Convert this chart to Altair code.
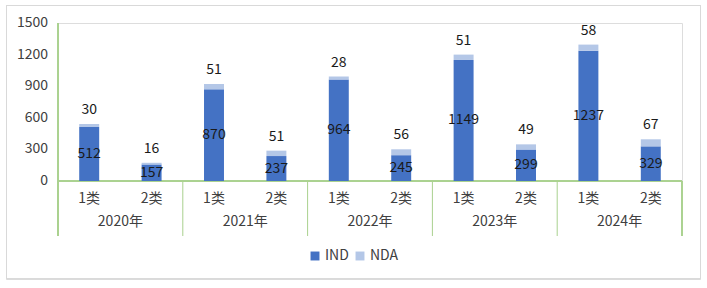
import altair as alt
import pandas as pd

years = ["2020年", "2021年", "2022年", "2023年", "2024年"]
cats = ["1类", "2类"]
ind = [512, 157, 870, 237, 964, 245, 1149, 299, 1237, 329]
nda = [30, 16, 51, 51, 28, 56, 51, 49, 58, 67]
series = ["IND", "NDA"]
colors = ["#4472C4", "#B4C7E7"]
y_ticks = [0, 300, 600, 900, 1200, 1500]

rows = []
for i, (a, b) in enumerate(zip(ind, nda)):
    rows.append({"year": years[i // 2], "cat": cats[i % 2], "IND": a, "NDA": b})
wide = pd.DataFrame(rows)
long_rows = []
for r in rows:
    for k, s in enumerate(series):
        long_rows.append({"year": r["year"], "cat": r["cat"], "series": s, "value": r[s], "ord": k})
long = pd.DataFrame(long_rows)

W, H = 624, 158
GREEN = "#A9D18E"
FONT = "Noto Sans CJK SC"
TXT = "#404040"

xs = alt.Scale(domain=years, paddingInner=0, paddingOuter=0)
xo = alt.Scale(domain=cats, paddingInner=0.68, paddingOuter=0.34)
ys = alt.Scale(domain=[0, 1500], nice=False)


def X(**kw):
    return alt.X("year:N", scale=xs, sort=years, axis=None, **kw)


def XO():
    return alt.XOffset("cat:N", scale=xo, sort=cats)


bars = alt.Chart(long).mark_bar().encode(
    x=X(),
    xOffset=XO(),
    y=alt.Y("value:Q", stack="zero", scale=ys, axis=None),
    color=alt.Color("series:N", scale=alt.Scale(domain=series, range=colors),
                    legend=alt.Legend(title=None, orient="none", direction="horizontal",
                                      legendX=250, legendY=226, symbolType="square",
                                      symbolSize=80, symbolStrokeWidth=0,
                                      labelFontSize=14, labelFont=FONT, labelColor=TXT,
                                      columnPadding=4, labelOffset=3)),
    order=alt.Order("ord:Q", sort="ascending"),
)

ind_labels = alt.Chart(wide).transform_calculate(mid="datum.IND / 2").mark_text(
    fontSize=14, font=FONT, color="#1a1a1a"
).encode(
    x=X(), xOffset=XO(),
    y=alt.Y("mid:Q", scale=ys, axis=None),
    text=alt.Text("IND:Q"),
)

nda_labels = alt.Chart(wide).transform_calculate(top="datum.IND + datum.NDA").mark_text(
    fontSize=14, font=FONT, color="#1a1a1a", dy=-14
).encode(
    x=X(), xOffset=XO(),
    y=alt.Y("top:Q", scale=ys, axis=None),
    text=alt.Text("NDA:Q"),
)

cat_labels = alt.Chart(wide).mark_text(
    fontSize=14, font=FONT, color=TXT
).encode(
    x=X(), xOffset=XO(),
    y=alt.value(H + 18),
    text="cat:N",
)

tick_df = pd.DataFrame({"t": y_ticks})
y_labels = alt.Chart(tick_df).mark_text(
    fontSize=14, font=FONT, color=TXT, align="right", baseline="middle"
).encode(
    x=alt.value(-10),
    y=alt.Y("t:Q", scale=ys, axis=None),
    text=alt.Text("t:Q", format="d"),
)

year_df = pd.DataFrame({"year": years})
year_labels = alt.Chart(year_df).mark_text(
    fontSize=14, font=FONT, color=TXT
).encode(
    x=X(), y=alt.value(H + 41), text="year:N",
)
seps = alt.Chart(year_df).mark_rule(color=GREEN, strokeWidth=1).encode(
    x=X(bandPosition=0),
    y=alt.value(H),
    y2=alt.value(H + 55),
)
sep_end = alt.Chart(year_df).mark_rule(color=GREEN, strokeWidth=1).encode(
    x=alt.value(W), y=alt.value(H), y2=alt.value(H + 55)
)
yline = alt.Chart(year_df).mark_rule(color=GREEN, strokeWidth=1).encode(
    x=alt.value(0), y=alt.value(0), y2=alt.value(H + 55)
)
zero_line = alt.Chart(year_df).mark_rule(color=GREEN, strokeWidth=1).encode(
    x=alt.value(0), x2=alt.value(W), y=alt.value(H)
)
border = alt.Chart(year_df).mark_rect(fill=None, stroke="#D9D9D9", strokeWidth=1).encode(
    x=alt.value(-51.5), x2=alt.value(642.5), y=alt.value(-17.5), y2=alt.value(256)
)

chart = alt.layer(border, seps, sep_end, yline, zero_line, bars, ind_labels, nda_labels,
                  cat_labels, year_labels, y_labels).properties(
    width=W, height=H,
    autosize=alt.AutoSizeParams(type="none"),
    padding={"left": 58, "top": 23, "right": 25, "bottom": 107},
).configure_view(stroke=None).configure(background="white")

chart.save("out.html", embed_options={"renderer": "svg", "actions": False})
